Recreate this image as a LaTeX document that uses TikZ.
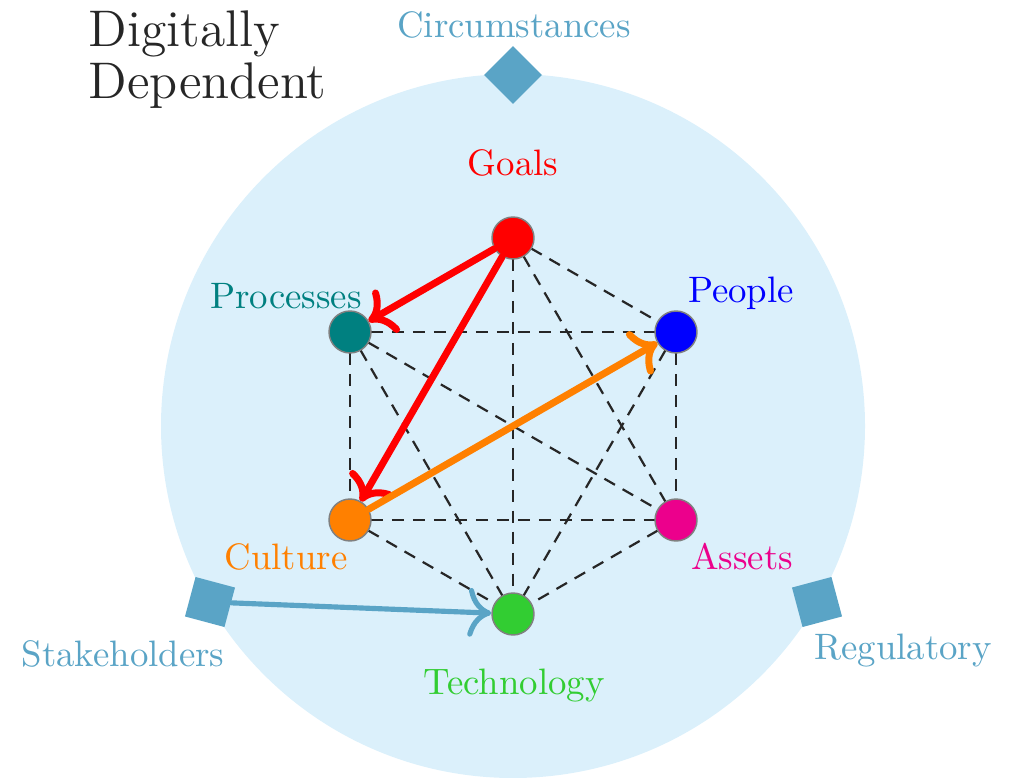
\documentclass[tikz,border=0pt]{standalone}
\usetikzlibrary{arrows.meta}
\definecolor{bgblue}{RGB}{219,240,251}
\definecolor{sqblue}{RGB}{90,164,198}
\definecolor{tealc}{RGB}{0,128,128}
\definecolor{orangec}{RGB}{255,128,0}
\definecolor{magentac}{RGB}{236,0,140}
\definecolor{greenc}{RGB}{50,205,50}
\begin{document}
\begin{tikzpicture}[x=0.2717pt,y=-0.2717pt,
  dot/.style={circle,draw=gray,thin,minimum size=11.4pt,inner sep=0pt},
  marker/.style={rectangle,fill=sqblue,minimum size=11.1pt,inner sep=0pt},
  lbl/.style={inner sep=0pt},
  edge/.style={dash pattern=on 3.3pt off 2.4pt, line width=0.6pt, black!85},
  arr/.style={line width=1.9pt,line cap=round,-{To[round,scale=1.1]}}
]
\useasboundingbox (0,0) rectangle (1013,777);
\fill[bgblue] (513,426) circle[radius=352];

\coordinate (g) at (513,238);
\coordinate (pe) at (676,332);
\coordinate (as) at (676,520);
\coordinate (te) at (513,614);
\coordinate (cu) at (350,520);
\coordinate (pr) at (350,332);

\draw[edge] (g) -- (pe);
\draw[edge] (g) -- (as);
\draw[edge] (g) -- (te);
\draw[edge] (pr) -- (pe);
\draw[edge] (pr) -- (cu);
\draw[edge] (pr) -- (as);
\draw[edge] (pr) -- (te);
\draw[edge] (pe) -- (as);
\draw[edge] (pe) -- (te);
\draw[edge] (cu) -- (as);
\draw[edge] (cu) -- (te);
\draw[edge] (as) -- (te);

\node[dot,fill=red] (goals) at (g) {};
\node[dot,fill=blue] (people) at (pe) {};
\node[dot,fill=magentac] (assets) at (as) {};
\node[dot,fill=greenc] (tech) at (te) {};
\node[dot,fill=orangec] (culture) at (cu) {};
\node[dot,fill=tealc] (processes) at (pr) {};

\node[marker,rotate=45] (circ) at (513,75) {};
\node[marker,rotate=-15] (stake) at (210,602) {};
\node[marker,rotate=15] (regul) at (817,602) {};

\draw[arr,red] (goals) -- (processes);
\draw[arr,red] (goals) -- (culture);
\draw[arr,orangec] (culture) -- (people);
\draw[arr,sqblue,line width=1.4pt,-{To[round,scale=1.35]}] (stake) -- (tech);

\node[lbl,text=red] (lg) at (513,163) {Goals};
\node[lbl,text=tealc] (lpr) at (286,296) {Processes};
\node[lbl,text=blue] (lpe) at (741,293) {People};
\node[lbl,text=orangec] (lcu) at (286,557) {Culture};
\node[lbl,text=magentac] (las) at (742,557) {Assets};
\node[lbl,text=greenc] (lte) at (514,686) {Technology};
\node[lbl,text=sqblue] (lci) at (514,25) {Circumstances};
\node[lbl,text=sqblue] (lst) at (123,654) {Stakeholders};
\node[lbl,text=sqblue] (lre) at (903,651) {Regulatory};

\node[lbl,anchor=base west,text=black!85,font=\fontsize{14}{15}\selectfont] (t1) at (88,47) {Digitally};
\node[lbl,anchor=base west,text=black!85,font=\fontsize{14}{15}\selectfont] (t2) at (88,99) {Dependent};
\end{tikzpicture}
\end{document}
